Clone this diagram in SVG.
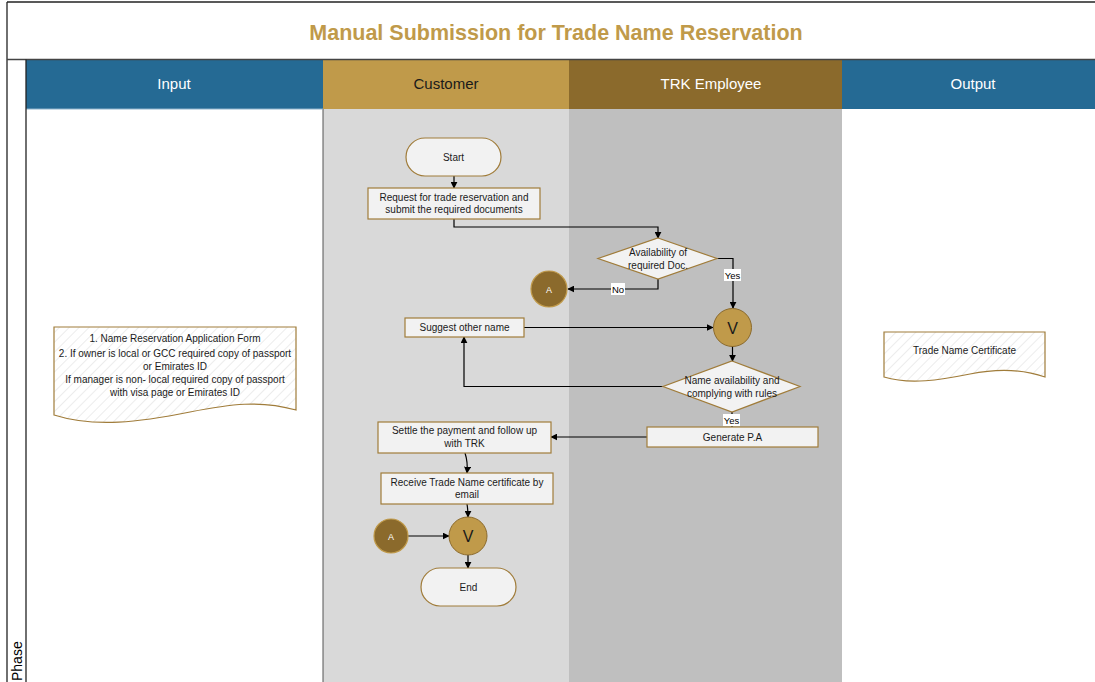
<svg xmlns="http://www.w3.org/2000/svg" width="1095" height="682" viewBox="0 0 1095 682">
<style>
text{font-family:"Liberation Sans",Arial,sans-serif;}
.t{font-size:10px;fill:#1a1a1a;text-anchor:middle;}
.hd{font-size:15px;text-anchor:middle;}
.box{fill:#F2F2F2;stroke:#A07C3A;stroke-width:1.2;}
.cn{fill:none;stroke:#000;stroke-width:1.2;}
.lbl{font-size:9.5px;fill:#000;text-anchor:middle;}
.v{fill:#C09A4A;stroke:#8B6A2C;stroke-width:1;}
.a{fill:#8B6A2C;stroke:#C09A4A;stroke-width:1.2;}
.doc{fill:url(#hatch);stroke:#A07C3A;stroke-width:1.2;}
</style>
<defs>
<marker id="arr" viewBox="0 0 10 10" refX="9" refY="5" markerWidth="7" markerHeight="7" markerUnits="userSpaceOnUse" orient="auto">
<path d="M0,0 L10,5 L0,10 z" fill="#000"/>
</marker>
<pattern id="hatch" width="7" height="7" patternUnits="userSpaceOnUse" patternTransform="rotate(45)">
<rect width="7" height="7" fill="#fff"/>
<line x1="0" y1="0" x2="0" y2="7" stroke="#DADADA" stroke-width="1"/>
</pattern>
</defs>
<rect width="1095" height="682" fill="#fff"/>
<g id="lanes">
<rect x="323" y="109" width="246" height="573" fill="#D9D9D9"/>
<rect x="569" y="109" width="273" height="573" fill="#BFBFBF"/>
<rect x="26" y="60" width="297" height="49" fill="#256A94"/>
<rect x="323" y="60" width="246" height="49" fill="#C09A4A"/>
<rect x="569" y="60" width="273" height="49" fill="#8B6A2C"/>
<rect x="842" y="60" width="253" height="49" fill="#256A94"/>
<line x1="323" y1="109" x2="323" y2="682" stroke="#555" stroke-width="1"/>
<line x1="26" y1="109" x2="323" y2="109" stroke="#8FB3CC" stroke-width="1"/>
<text class="hd" x="174" y="89" fill="#fff">Input</text>
<text class="hd" x="446" y="89" fill="#1a1a1a">Customer</text>
<text class="hd" x="711" y="89" fill="#fff">TRK Employee</text>
<text class="hd" x="973" y="89" fill="#fff">Output</text>
</g>
<g id="frame" fill="none" stroke="#222" stroke-width="1.3">
<line x1="7" y1="2" x2="1095" y2="2"/>
<line x1="7" y1="2" x2="7" y2="682"/>
<line x1="7" y1="59.5" x2="1095" y2="59.5" stroke="#444"/>
<line x1="26" y1="59.5" x2="26" y2="682"/>
</g>
<text x="556" y="39.5" font-size="21.5" font-weight="bold" fill="#C09A4A" text-anchor="middle">Manual Submission for Trade Name Reservation</text>
<text transform="translate(22,681) rotate(-90)" font-size="14" fill="#000">Phase</text>

<g id="connectors">
<path class="cn" d="M454,176 V188" marker-end="url(#arr)"/>
<path class="cn" d="M454,219 V227 H658 V238" marker-end="url(#arr)"/>
<path class="cn" d="M658,279 V289 H568" marker-end="url(#arr)"/>
<path class="cn" d="M716,258.5 H733 V308" marker-end="url(#arr)"/>
<path class="cn" d="M524,327.5 H713" marker-end="url(#arr)"/>
<path class="cn" d="M732.5,346 V361" marker-end="url(#arr)"/>
<path class="cn" d="M663,386.5 H464 V337" marker-end="url(#arr)"/>
<path class="cn" d="M732,412 V427"/>
<path class="cn" d="M647,437 H551" marker-end="url(#arr)"/>
<path class="cn" d="M465,453 Q468,462 467,473" marker-end="url(#arr)"/>
<path class="cn" d="M467,504 Q468,510 468,517" marker-end="url(#arr)"/>
<path class="cn" d="M408,536 H449" marker-end="url(#arr)"/>
<path class="cn" d="M468,555 V568" marker-end="url(#arr)"/>
<rect x="611" y="283" width="14" height="12" fill="#fff"/>
<text class="lbl" x="618" y="292.5">No</text>
<rect x="724" y="269" width="17" height="12" fill="#fff"/>
<text class="lbl" x="732.5" y="278.5">Yes</text>
<rect x="723" y="414" width="17" height="12" fill="#fff"/>
<text class="lbl" x="731.5" y="423.5">Yes</text>
</g>

<g id="start">
<rect class="box" x="406" y="138" width="95" height="38" rx="19"/>
<text class="t" x="453.5" y="160.5">Start</text>
</g>
<g id="request">
<rect class="box" x="368" y="188" width="172" height="31"/>
<text class="t" x="454" y="200.5">Request for trade reservation and</text>
<text class="t" x="454" y="213">submit the required documents</text>
</g>
<g id="availability">
<polygon class="box" points="658,238 717,258.5 658,279 598,258.5"/>
<text class="t" x="658" y="256">Availability of</text>
<text class="t" x="658" y="269">required Doc.</text>
</g>
<g id="a1">
<circle class="a" cx="549" cy="289" r="18"/>
<text x="549" y="292.5" font-size="9" fill="#fff" text-anchor="middle">A</text>
</g>
<g id="v1">
<circle class="v" cx="732.5" cy="327.5" r="19"/>
<text x="732.5" y="333.5" font-size="16" fill="#1a1a1a" text-anchor="middle">V</text>
</g>
<g id="suggest">
<rect class="box" x="405" y="318" width="119" height="19"/>
<text class="t" x="464.5" y="331">Suggest other name</text>
</g>
<g id="namecheck">
<polygon class="box" points="732,361 800,386.5 732,412 663,386.5"/>
<text class="t" x="732" y="384">Name availability and</text>
<text class="t" x="732" y="397">complying with rules</text>
</g>
<g id="generate">
<rect class="box" x="647" y="427" width="171" height="20"/>
<text class="t" x="732.5" y="440.5">Generate P.A</text>
</g>
<g id="settle">
<rect class="box" x="378" y="422" width="173" height="31"/>
<text class="t" x="464.5" y="434">Settle the payment and follow up</text>
<text class="t" x="464.5" y="446.5">with TRK</text>
</g>
<g id="receive">
<rect class="box" x="381" y="473" width="172" height="31"/>
<text class="t" x="467" y="485.5">Receive Trade Name certificate by</text>
<text class="t" x="467" y="497.5">email</text>
</g>
<g id="v2">
<circle class="v" cx="468" cy="536" r="19"/>
<text x="468" y="542" font-size="16" fill="#1a1a1a" text-anchor="middle">V</text>
</g>
<g id="a2">
<circle class="a" cx="391" cy="536" r="17"/>
<text x="391" y="539.5" font-size="9" fill="#fff" text-anchor="middle">A</text>
</g>
<g id="end">
<rect class="box" x="421" y="568" width="95" height="38" rx="19"/>
<text class="t" x="468.5" y="590.5">End</text>
</g>
<g id="input-doc">
<path class="doc" d="M54,327 H296 V410 C260,400 230,404 190,412 C140,422 95,428 54,415 Z"/>
<text class="t" x="175" y="342">1. Name Reservation Application Form</text>
<text class="t" x="175" y="357">2. If owner is local or GCC required copy of passport</text>
<text class="t" x="175" y="370">or Emirates ID</text>
<text class="t" x="175" y="383">If manager is non- local required copy of passport</text>
<text class="t" x="175" y="396">with visa page or Emirates ID</text>
</g>
<g id="output-doc">
<path class="doc" d="M884,332 H1045 V377 C1025,370 1000,368 970,374 C940,380 910,385 884,377 Z"/>
<text class="t" x="964.5" y="354">Trade Name Certificate</text>
</g>
</svg>
